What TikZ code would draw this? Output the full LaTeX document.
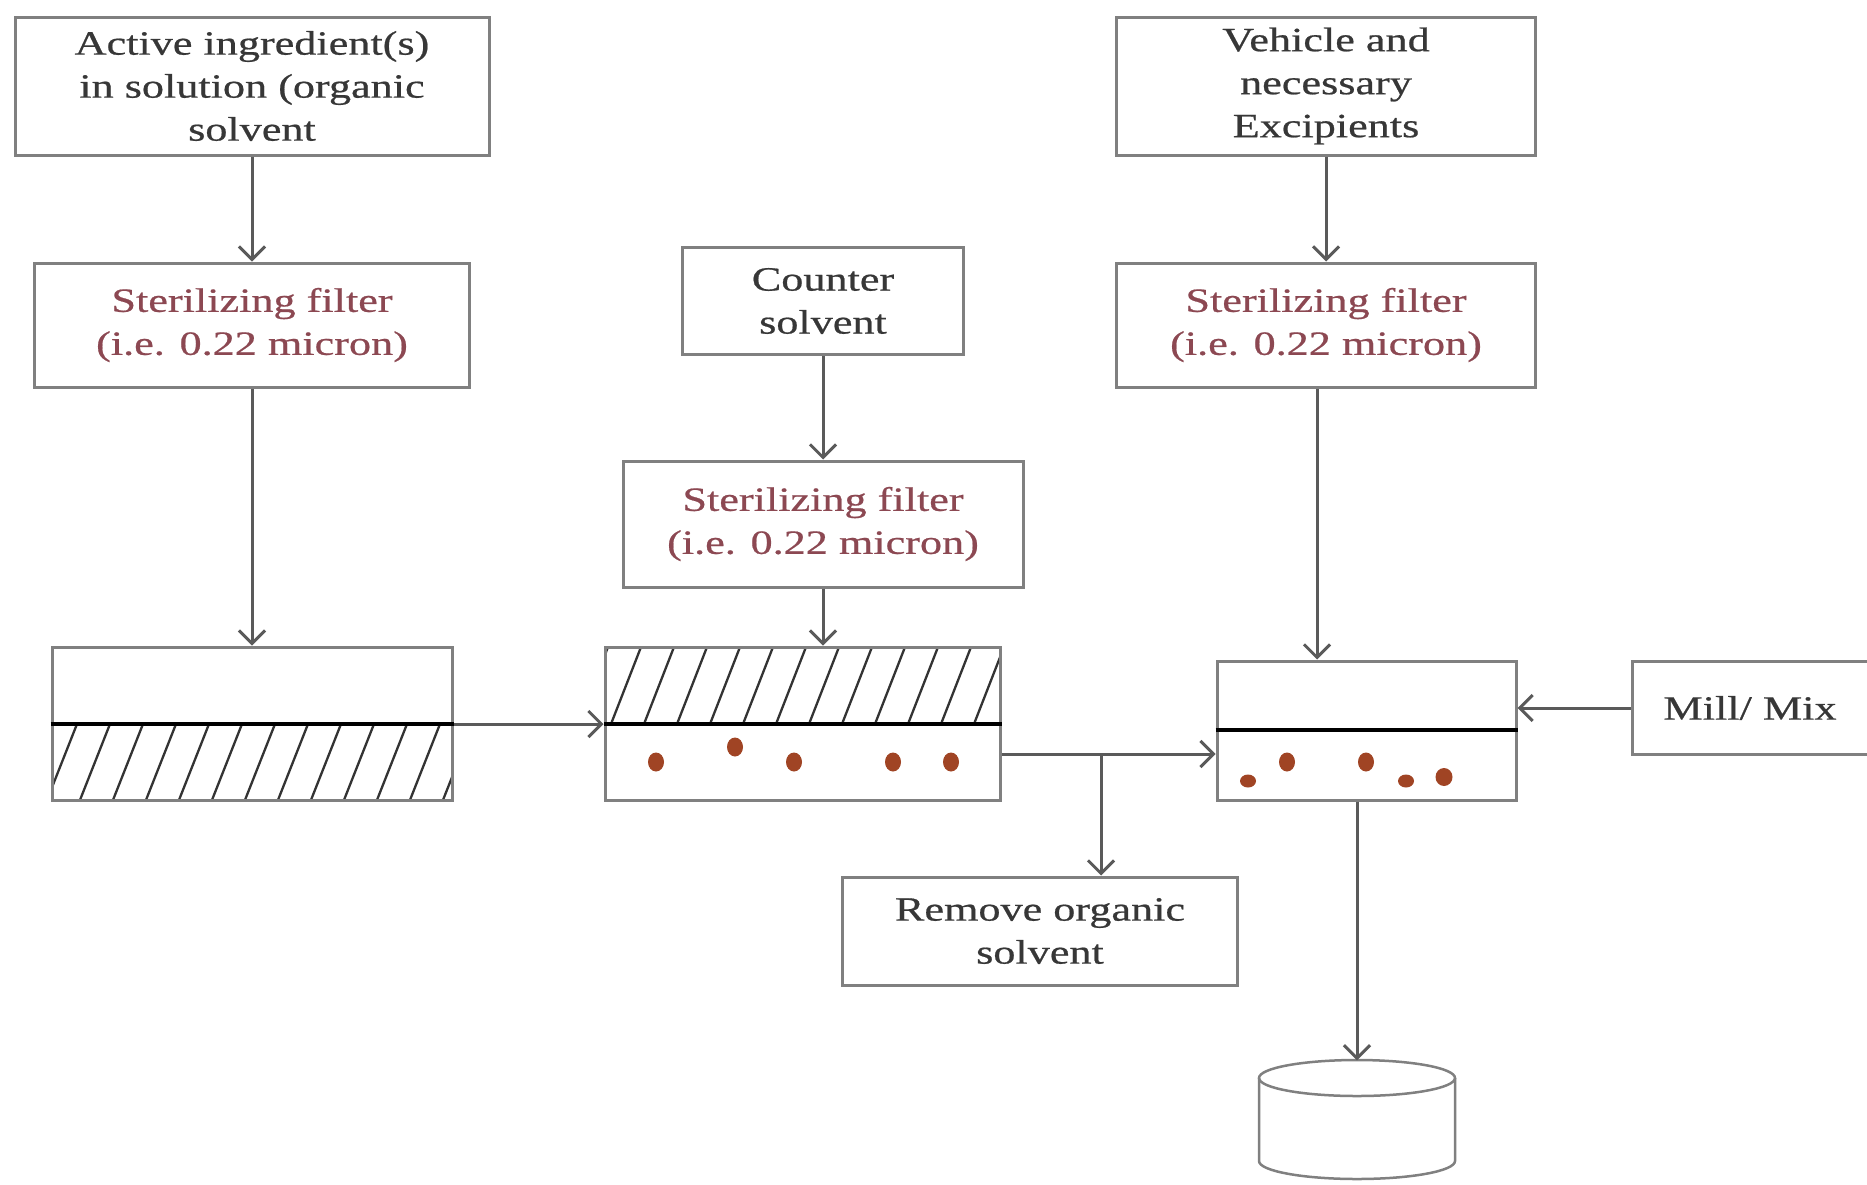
\documentclass[tikz,border=0pt]{standalone}
\usepackage{fontspec}
\setmainfont{Liberation Serif}[FakeStretch=1.3,FakeBold=0.6]
\usetikzlibrary{arrows.meta}
\definecolor{boxgray}{RGB}{128,128,128}
\definecolor{txtgray}{RGB}{55,55,55}
\definecolor{filtred}{RGB}{140,72,82}
\definecolor{dotbrown}{RGB}{160,68,36}
\definecolor{arrgray}{RGB}{90,90,90}
\begin{document}
\begin{tikzpicture}[x=1pt,y=-1pt,
  box/.style={draw=boxgray, line width=3pt, fill=white, text=txtgray, align=center,
    inner sep=0pt, font=\fontsize{34}{43}\selectfont},
  filt/.style={box, text=filtred},
  cont/.style={draw=boxgray, line width=3pt, inner sep=0pt},
  arr/.style={draw=arrgray, line width=3pt, -{Straight Barb[length=13pt,width=26pt]}},
  plain/.style={draw=arrgray, line width=3pt},
  hatch/.style={draw=black!80, line width=2.3pt},
  divider/.style={draw=black, line width=3.5pt},
  dot/.style={fill=dotbrown}]
\fill[white] (0,0) rectangle (1867,1184);
\useasboundingbox (0,0) rectangle (1867,1184);

% top boxes
\node[box, minimum width=474, minimum height=138] (a1) at (252,86)
  {Active ingredient(s)\\in solution (organic\\solvent};
\node[filt, minimum width=435, minimum height=124] (f1) at (252,325)
  {Sterilizing filter\\(i.e. 0.22 micron)};
\node[box, minimum width=281, minimum height=107] (cs) at (823,301)
  {Counter\\solvent};
\node[filt, minimum width=400, minimum height=126] (f2) at (823,524)
  {Sterilizing filter\\(i.e. 0.22 micron)};
\node[box, minimum width=419, minimum height=138] (ve) at (1326,86)
  {Vehicle and\\necessary\\Excipients};
\node[filt, minimum width=419, minimum height=124] (f3) at (1326,325)
  {Sterilizing filter\\(i.e. 0.22 micron)};
\node[box, minimum width=236, minimum height=93] (mm) at (1750,708)
  {Mill/ Mix};
\node[box, minimum width=395, minimum height=108] (rem) at (1040,931)
  {Remove organic\\solvent};

% containers
\node[cont, minimum width=400, minimum height=153] (c1) at (252,723.5) {};
\node[cont, minimum width=395, minimum height=153] (c2) at (802.5,723.5) {};
\node[cont, minimum width=299, minimum height=139] (c3) at (1366.5,730.5) {};

% hatching container 1 (lower part)
\begin{scope}
  \clip (52,724) rectangle (452,800);
  \foreach \x in {14,47,...,460} \draw[hatch] (\x,800) -- ++(30,-76);
\end{scope}
% hatching container 2 (upper part)
\begin{scope}
  \clip (605,647) rectangle (1000,724);
  \foreach \x in {578,611,...,1010} \draw[hatch] (\x,724) -- ++(30,-77);
\end{scope}
\node[cont, minimum width=400, minimum height=153] at (252,723.5) {};
\node[cont, minimum width=395, minimum height=153] at (802.5,723.5) {};

% dividers
\draw[divider] (c1.west |- 0,724) -- (c1.east |- 0,724);
\draw[divider] (c2.west |- 0,724) -- (c2.east |- 0,724);
\draw[divider] (c3.west |- 0,730) -- (c3.east |- 0,730);

% particles
\fill[dot] (656,762) ellipse [x radius=8, y radius=9.5];
\fill[dot] (735,747) ellipse [x radius=8, y radius=9.5];
\fill[dot] (794,762) ellipse [x radius=8, y radius=9.5];
\fill[dot] (893,762) ellipse [x radius=8, y radius=9.5];
\fill[dot] (951,762) ellipse [x radius=8, y radius=9.5];
\fill[dot] (1248,781) ellipse [x radius=8, y radius=6.5];
\fill[dot] (1287,762) ellipse [x radius=8, y radius=9.5];
\fill[dot] (1366,762) ellipse [x radius=8, y radius=9.5];
\fill[dot] (1406,781) ellipse [x radius=8, y radius=6.5];
\fill[dot] (1444,777) ellipse [x radius=8.5, y radius=9];

% storage cylinder
\node[minimum width=196, minimum height=119, inner sep=0pt] (cyl) at (1357,1120) {};
\draw[boxgray, line width=2.5pt] (1357,1078) ellipse [x radius=98, y radius=18];
\draw[boxgray, line width=2.5pt] (1259,1078) -- (1259,1161)
  arc [start angle=180, end angle=0, x radius=98, y radius=18] -- (1455,1078);

% connectors
\draw[arr] (a1) -- (f1);
\draw[arr] (f1) -- (c1);
\draw[arr] (cs) -- (f2);
\draw[arr] (f2) -- (c2.north -| f2.south);
\draw[arr] (ve) -- (f3);
\draw[arr] (f3.south -| 1317,0) -- (c3.north -| 1317,0);
\draw[arr] (c1.east |- 0,724) -- (c2.west |- 0,724);
\draw[arr] (mm.west) -- (c3.east |- mm.west);
\coordinate (j) at (1101,754);
\draw[plain] (c2.east |- j) -- (j);
\draw[arr] (j) -- (c3.west |- j);
\draw[arr] (j) -- (j |- rem.north);
\draw[arr] (c3.south -| cyl.north) -- (cyl.north);
\end{tikzpicture}
\end{document}
